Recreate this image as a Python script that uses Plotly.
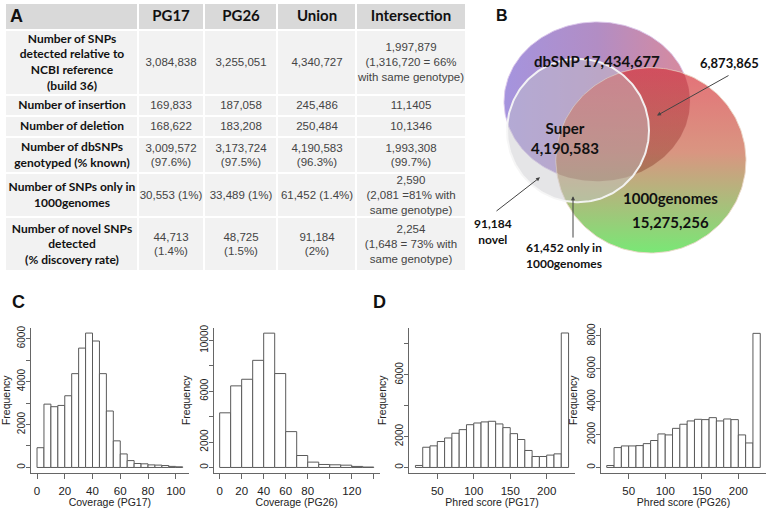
import numpy as np
import plotly.graph_objects as go

W, H = 768, 508

# ---- panel A: table ----
col_headers = ['PG17', 'PG26', 'Union', 'Intersection']
row_labels = [
    'Number of SNPs<br>detected relative to<br>NCBI reference<br>(build 36)',
    'Number of insertion',
    'Number of deletion',
    'Number of dbSNPs<br>genotyped (% known)',
    'Number of SNPs only in<br>1000genomes',
    'Number of novel SNPs<br>detected<br>(% discovery rate)',
]
pg17_vals = ['3,084,838', '169,833', '168,622', '3,009,572<br>(97.6%)',
             '30,553 (1%)', '44,713<br>(1.4%)']
pg26_vals = ['3,255,051', '187,058', '183,208', '3,173,724<br>(97.5%)',
             '33,489 (1%)', '48,725<br>(1.5%)']
union_vals = ['4,340,727', '245,486', '250,484', '4,190,583<br>(96.3%)',
              '61,452 (1.4%)', '91,184<br>(2%)']
inter_vals = ['1,997,879<br>(1,316,720 = 66%<br>with same genotype)', '11,1405', '10,1346',
              '1,993,308<br>(99.7%)', '2,590<br>(2,081 =81% with<br>same genotype)',
              '2,254<br>(1,648 = 73% with<br>same genotype)']

# ---- panel B: venn labels ----
venn_dbsnp = 'dbSNP 17,434,677'
venn_super = 'Super<br>4,190,583'
venn_1000g = '1000genomes'
venn_1000g_n = '15,275,256'
venn_db_1000g = '6,873,865'
venn_novel = '91,184<br>novel'
venn_only1000g = '61,452 only in<br>1000genomes'

# ---- panel C: coverage histograms ----
cov17_bins = [0, 5, 10, 15, 20, 25, 30, 35, 40, 45, 50, 55, 60, 65, 70, 75, 80, 85, 90, 95, 100]
cov17_counts = [920, 2950, 2830, 2890, 3340, 4370, 5560, 6260, 5890, 4370, 2630,
                1240, 630, 320, 185, 170, 120, 110, 90, 50, 30]
cov26_bins = [0, 10, 20, 30, 40, 50, 60, 70, 80, 90, 100, 110, 120, 130]
cov26_counts = [4300, 6420, 6940, 8430, 10570, 7390, 2820, 940, 420, 235, 210, 180, 80, 30]

# ---- panel D: phred score histograms ----
phred_bins = [20, 30, 40, 50, 60, 70, 80, 90, 100, 110, 120, 130, 140, 150, 160,
              170, 180, 190, 200, 210, 220]
phred17_counts = [130, 1310, 1400, 1680, 1910, 2215, 2450, 2770, 2880, 2950, 2990,
                  2820, 2580, 2190, 1810, 1100, 710, 710, 800, 880, 8710]
phred26_counts = [120, 1210, 1310, 1310, 1330, 1450, 1640, 2040, 1980, 2380, 2630,
                  2830, 2930, 2910, 3030, 2830, 2950, 2910, 1980, 1490, 8160]


def px(v):
    return v / W


def py(v):
    return 1 - v / H


fig = go.Figure()

# ---- table drawn as heatmap cells on a hidden axis pair ----
col_w = [133, 66, 73, 79, 110]
row_h = [27, 65, 21, 21, 37, 44, 54]
x_edges = list(np.concatenate([[0], np.cumsum(col_w)]))
y_edges = list(np.concatenate([[0], np.cumsum(row_h)]))
body_rows = list(zip(pg17_vals, pg26_vals, union_vals, inter_vals))


def flat_fill(color):
    return [[0, color], [1, color]]


tbl = dict(xaxis='x6', yaxis='y6', showscale=False, xgap=2, ygap=2,
           hoverinfo='skip', texttemplate='%{text}')
fig.add_trace(go.Heatmap(
    z=[[0] * 5], x=x_edges, y=y_edges[:2], colorscale=flat_fill('#d9d9d9'),
    text=[[''] + ['<b>%s</b>' % h for h in col_headers]],
    textfont=dict(family='Lato', size=15, color='#111111'), **tbl))
fig.add_trace(go.Heatmap(
    z=[[0] for _ in row_labels], x=x_edges[:2], y=y_edges[1:], colorscale=flat_fill('#f2f2f2'),
    text=[['<b>%s</b>' % r] for r in row_labels],
    textfont=dict(family='Lato', size=12, color='#111111'), **tbl))
fig.add_trace(go.Heatmap(
    z=[[0] * 4 for _ in body_rows], x=x_edges[1:], y=y_edges[1:], colorscale=flat_fill('#f2f2f2'),
    text=[list(r) for r in body_rows],
    textfont=dict(family='Liberation Sans, Arial', size=11.5, color='#444444'), **tbl))
fig.add_annotation(text='<b>A</b>', x=x_edges[0] + 3, y=row_h[0] / 2, xref='x6', yref='y6',
                   showarrow=False, xanchor='left', yanchor='middle',
                   font=dict(family='Liberation Sans, Arial', size=18, color='#111111'))

# ---- venn (pixel-like coordinates on a hidden axis pair) ----
purple = dict(cx=597, cy=102, rx=93, ry=80)
green = dict(cx=651, cy=161, rx=95, ry=93)
superc = dict(cx=578, cy=131, rx=71, ry=72)


def ellipse(c, n=240):
    t = np.linspace(0, 2 * np.pi, n, endpoint=False)
    return c['cx'] + c['rx'] * np.cos(t), c['cy'] + c['ry'] * np.sin(t)


def inside(x, y, c):
    return ((x - c['cx']) / c['rx']) ** 2 + ((y - c['cy']) / c['ry']) ** 2 <= 1


def arc_inside(a, b):
    x, y = ellipse(a)
    m = inside(x, y, b)
    start = int(np.argmax(m & ~np.roll(m, 1)))
    x, y, m = np.roll(x, -start), np.roll(y, -start), np.roll(m, -start)
    k = int(m.sum())
    return x[:k], y[:k]


def closed(x, y):
    return list(x) + [x[0]], list(y) + [y[0]]


vx, vy = closed(*ellipse(purple))
fig.add_trace(go.Scatter(
    x=vx, y=vy, xaxis='x5', yaxis='y5', mode='lines', fill='toself',
    line=dict(color='rgba(220,200,235,0.9)', width=1),
    fillgradient=dict(type='horizontal', start=505, stop=690,
                      colorscale=[[0, '#a594de'], [0.5, '#b28dc4'], [1, '#d98a9c']]),
    hoverinfo='skip'))

vx, vy = closed(*ellipse(green))
fig.add_trace(go.Scatter(
    x=vx, y=vy, xaxis='x5', yaxis='y5', mode='lines', fill='toself',
    line=dict(color='rgba(235,215,200,0.9)', width=1),
    fillgradient=dict(type='vertical', start=68, stop=255,
                      colorscale=[[0, 'rgba(226,100,108,0.92)'], [0.45, 'rgba(214,140,118,0.92)'],
                                  [1, 'rgba(112,232,110,0.95)']]),
    hoverinfo='skip'))

ax1, ay1 = arc_inside(green, purple)
ax2, ay2 = arc_inside(purple, green)
lx, ly = closed(np.concatenate([ax1, ax2]), np.concatenate([ay1, ay2]))
fig.add_trace(go.Scatter(
    x=lx, y=ly, xaxis='x5', yaxis='y5', mode='lines', fill='toself',
    line=dict(width=0, color='rgba(0,0,0,0)'),
    fillgradient=dict(type='vertical', start=68, stop=182,
                      colorscale=[[0, 'rgba(175,20,50,0.3)'], [1, 'rgba(120,60,30,0.38)']]),
    hoverinfo='skip'))

vx, vy = closed(*ellipse(superc))
fig.add_trace(go.Scatter(
    x=vx, y=vy, xaxis='x5', yaxis='y5', mode='lines', fill='toself',
    fillcolor='rgba(198,198,202,0.45)',
    line=dict(color='rgba(245,245,245,0.95)', width=2),
    hoverinfo='skip'))

# ---- histograms ----
bar_line = dict(color='#5a5a5a', width=1)
hists = [
    ('x', 'y', cov17_bins, cov17_counts, 5),
    ('x2', 'y2', cov26_bins, cov26_counts, 10),
    ('x3', 'y3', phred_bins, phred17_counts, 10),
    ('x4', 'y4', phred_bins, phred26_counts, 10),
]
for xa, ya, bins, counts, bw in hists:
    fig.add_trace(go.Bar(x=bins, y=counts, width=bw, offset=0, xaxis=xa, yaxis=ya,
                         marker=dict(color='white', line=bar_line), hoverinfo='skip'))

axis_font = dict(family='Liberation Sans, Arial', color='#222222')
ydom = [py(474.7), py(329)]


def xax(dom, rng, tickvals, ticktext, title, anchor):
    # x titles go through automargin so that the standoff is honoured
    return dict(domain=[px(dom[0]), px(dom[1])], range=rng, anchor=anchor, automargin=True,
                tickvals=tickvals, ticktext=ticktext, ticks='outside', ticklen=5,
                tickcolor='#666666', showline=True, linecolor='#666666', linewidth=1,
                showgrid=False, zeroline=False, ticklabelstandoff=2,
                tickfont=dict(size=11.5, **axis_font),
                title=dict(text=title, font=dict(size=10.5, **axis_font), standoff=4))


def yax(rng, tickvals, ticktext, anchor):
    return dict(domain=ydom, range=rng, anchor=anchor, automargin=False,
                tickvals=tickvals, ticktext=ticktext, ticks='outside', ticklen=4,
                tickcolor='#666666', showline=True, linecolor='#666666', linewidth=1,
                showgrid=False, zeroline=False, tickangle=-90, ticklabelstandoff=-3,
                tickfont=dict(size=10, **axis_font),
                title=dict(text='Frequency', font=dict(size=10.5, **axis_font), standoff=5))


hidden = dict(visible=False, fixedrange=True, automargin=False, showgrid=False, zeroline=False)
fig.update_layout(
    width=W, height=H,
    margin=dict(l=0, r=0, t=0, b=0),
    paper_bgcolor='white', plot_bgcolor='white',
    showlegend=False,
    xaxis=xax([31.2, 188.5], [-4.2, 109.2], [0, 20, 40, 60, 80, 100],
              ['0', '20', '40', '60', '80', '100'], 'Coverage (PG17)', 'y'),
    yaxis=yax([-250, 6510], [0, 1000, 2000, 3000, 4000, 5000, 6000],
              ['0', '', '2000', '', '4000', '', '6000'], 'x'),
    xaxis2=xax([213.5, 379.9], [-5.6, 145.6], [0, 20, 40, 60, 80, 100, 120, 140],
               ['0', '20', '40', '60', '80', '', '120', ''], 'Coverage (PG26)', 'y2'),
    yaxis2=yax([-423, 10998], [0, 2000, 4000, 6000, 8000, 10000],
               ['0', '2000', '', '6000', '', '10000'], 'x2'),
    xaxis3=xax([409.3, 574.7], [11.6, 238.4], [50, 100, 150, 200],
               ['50', '100', '150', '200'], 'Phred score (PG17)', 'y3'),
    yaxis3=yax([-348, 9052], [0, 2000, 4000, 6000, 8000],
               ['0', '2000', '', '6000', ''], 'x3'),
    xaxis4=xax([600.6, 766.4], [11.6, 238.4], [50, 100, 150, 200],
               ['50', '100', '150', '200'], 'Phred score (PG26)', 'y4'),
    yaxis4=yax([-327, 8503], [0, 2000, 4000, 6000, 8000],
               ['0', '2000', '4000', '6000', '8000'], 'x4'),
    xaxis5=dict(domain=[px(470), 1], range=[470, 768], **hidden),
    yaxis5=dict(domain=[py(310), 1], range=[310, 0], anchor='x5', **hidden),
    xaxis6=dict(domain=[px(5), px(5 + x_edges[-1])], range=[0, x_edges[-1]], anchor='y6', **hidden),
    yaxis6=dict(domain=[py(3 + y_edges[-1]), py(3)], range=[y_edges[-1], 0], anchor='x6', **hidden),
)

notes = [
    ('<b>B</b>', 494, 16, 16, 'left', 'Liberation Sans, Arial'),
    ('<b>%s</b>' % venn_dbsnp, 597, 61, 15, 'center', 'Lato'),
    ('<b>%s</b>' % venn_db_1000g, 729, 63, 13, 'center', 'Lato'),
    ('<b>%s</b>' % venn_super, 565, 139, 15, 'center', 'Lato'),
    ('<b>%s</b>' % venn_1000g, 670, 199, 15, 'center', 'Lato'),
    ('<b>%s</b>' % venn_1000g_n, 670, 223, 15, 'center', 'Lato'),
    ('<b>%s</b>' % venn_novel, 493, 232, 12, 'center', 'Lato'),
    ('<b>%s</b>' % venn_only1000g, 564, 257, 12, 'center', 'Lato'),
]
for text, x, y, size, align, fam in notes:
    fig.add_annotation(text=text, x=x, y=y, xref='x5', yref='y5', showarrow=False,
                       xanchor=align, yanchor='middle', align='center',
                       font=dict(size=size, family=fam, color='#111111'))

arrows = [((730, 75), (657, 116)), ((495, 213), (540, 178)), ((573, 240), (573, 197))]
for (tx, ty), (hx, hy) in arrows:
    fig.add_annotation(text='', x=hx, y=hy, ax=tx, ay=ty, xref='x5', yref='y5',
                       axref='x5', ayref='y5', showarrow=True, arrowhead=2,
                       arrowsize=0.8, arrowwidth=1, arrowcolor='#444444')

for letter, x, y in [('C', 10, 303), ('D', 371, 303)]:
    fig.add_annotation(text='<b>%s</b>' % letter, x=px(x), y=py(y), xref='paper', yref='paper',
                       showarrow=False, xanchor='left', yanchor='middle',
                       font=dict(family='Liberation Sans, Arial', size=18, color='#111111'))

# the page's default body margin would push the 768x508 figure off the window
fig.write_html("out.html", config={'displayModeBar': False},
               post_script="document.body.style.margin = '0';")
